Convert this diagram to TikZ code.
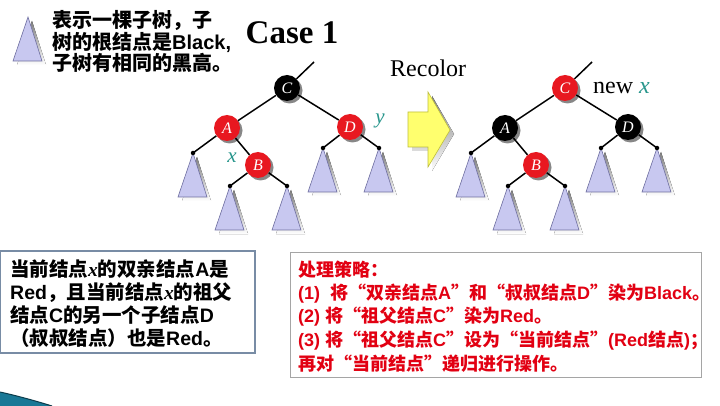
\documentclass[tikz,border=0pt]{standalone}
\usepackage{fontspec}
\setmainfont{Liberation Serif}
\newfontfamily\cjk{Noto Sans CJK SC}
\newfontfamily\ars{Liberation Sans}
\usetikzlibrary{shadows}
\definecolor{nodered}{RGB}{232,24,32}
\definecolor{tri}{RGB}{200,200,240}
\definecolor{triedge}{RGB}{110,110,160}
\definecolor{shade}{RGB}{135,135,135}
\definecolor{tealx}{RGB}{40,150,140}
\definecolor{txtred}{RGB}{226,0,18}
\definecolor{boxblue}{RGB}{120,140,165}
\definecolor{boxgray}{RGB}{165,165,165}
\definecolor{arrowyel}{RGB}{255,255,110}
\definecolor{arrowedge}{RGB}{190,190,60}
\definecolor{swoosh}{RGB}{25,120,150}
\newcommand\en[1]{{\ars\bfseries #1}}
\newcommand\vx{{\rmfamily\bfseries\itshape x}}
\begin{document}
\begin{tikzpicture}[x=1pt,y=-1pt,
  rb/.style={circle,minimum size=26pt,inner sep=0pt,text=white,
    font=\fontsize{16}{16}\selectfont\itshape,
    drop shadow={shadow xshift=2.5pt,shadow yshift=-2.5pt,fill=shade,opacity=1}},
  rednode/.style={rb,fill=nodered},
  blacknode/.style={rb,fill=black},
  dotnode/.style={circle,fill=black,inner sep=0pt,minimum size=4.5pt},
  edge/.style={line width=1.5pt},
  lbl/.style={text=tealx,font=\fontsize{21}{21}\selectfont\itshape,inner sep=0pt},
  subtree/.pic={
    \fill[shade] (4,4) -- (-11,48) -- (18,48) -- cycle;
    \filldraw[fill=tri,draw=triedge,line width=0.6pt] (0,0) -- (-15,44) -- (14,44) -- cycle;
  },
  ln/.style={anchor=base west,inner sep=0pt,font=\cjk\bfseries\fontsize{20}{24}\selectfont},
  cn/.style={anchor=base west,inner sep=0pt,font=\cjk\bfseries\fontsize{19.5}{23}\selectfont},
  rn/.style={anchor=base west,inner sep=0pt,text=txtred,font=\cjk\bfseries\fontsize{18}{21}\selectfont}
]
\useasboundingbox (0,0) rectangle (720,406);
\fill[white] (0,0) rectangle (720,406);

% bottom-left swoosh
\fill[swoosh] (0,392) .. controls (18,396) and (36,401) .. (52,406) -- (0,406) -- cycle;
\draw[swoosh!50!black,line width=1pt] (0,392) .. controls (18,396) and (36,401) .. (52,406);

% legend
\pic at (28,17) {subtree};
\node[ln] (l1) at (52,28) {表示一棵子树，子};
\node[ln] (l2) at (52,49.5) {树的根结点是\en{Black,}};
\node[ln] (l3) at (52,71) {子树有相同的黑高。};

% title
\node[font=\fontsize{33}{33}\selectfont\bfseries] (case) at (292,33) {Case 1};

% ---------- left tree ----------
\coordinate (Ltop) at (314,62);
\coordinate (La1) at (193,153);
\coordinate (Lb1) at (230,186);
\coordinate (Lb2) at (287,186);
\coordinate (Ld1) at (323,148);
\coordinate (Ld2) at (379,148);
\foreach \p in {La1,Lb1,Lb2,Ld1,Ld2} \pic at (\p) {subtree};
\node[blacknode] (LC) at (287,88) {C};
\node[rednode] (LA) at (227,128) {A};
\node[rednode] (LD) at (350,127) {D};
\node[rednode] (LB) at (258,165) {B};
\draw[edge] (LC) -- (Ltop);
\draw[edge] (LC) -- (LA);
\draw[edge] (LC) -- (LD);
\draw[edge] (LA) -- (La1);
\draw[edge] (LA) -- (LB);
\draw[edge] (LB) -- (Lb1);
\draw[edge] (LB) -- (Lb2);
\draw[edge] (LD) -- (Ld1);
\draw[edge] (LD) -- (Ld2);
\foreach \p in {La1,Lb1,Lb2,Ld1,Ld2} \node[dotnode] (\p dot) at (\p) {};
\node[lbl] (Lx) at (232,158) {x};
\node[lbl] (Ly) at (380,121) {y};

% recolor arrow
\node[anchor=base west,inner sep=0pt,font=\fontsize{24}{24}\selectfont] (rec) at (390,77) {Recolor};
\fill[shade] (412,116) -- (432,116) -- (432,96) -- (454,134) -- (432,171) -- (432,151) -- (412,151) -- cycle;
\filldraw[fill=arrowyel,draw=arrowedge,line width=0.6pt]
  (408,112) -- (428,112) -- (428,92) -- (450,130) -- (428,167) -- (428,147) -- (408,147) -- cycle;

% ---------- right tree ----------
\coordinate (Rtop) at (592,62);
\coordinate (Ra1) at (471,153);
\coordinate (Rb1) at (508,186);
\coordinate (Rb2) at (565,186);
\coordinate (Rd1) at (601,148);
\coordinate (Rd2) at (657,148);
\foreach \p in {Ra1,Rb1,Rb2,Rd1,Rd2} \pic at (\p) {subtree};
\node[rednode] (RC) at (565,88) {C};
\node[blacknode] (RA) at (505,128) {A};
\node[blacknode] (RD) at (628,127) {D};
\node[rednode] (RB) at (536,165) {B};
\draw[edge] (RC) -- (Rtop);
\draw[edge] (RC) -- (RA);
\draw[edge] (RC) -- (RD);
\draw[edge] (RA) -- (Ra1);
\draw[edge] (RA) -- (RB);
\draw[edge] (RB) -- (Rb1);
\draw[edge] (RB) -- (Rb2);
\draw[edge] (RD) -- (Rd1);
\draw[edge] (RD) -- (Rd2);
\foreach \p in {Ra1,Rb1,Rb2,Rd1,Rd2} \node[dotnode] (\p dot) at (\p) {};
\node[anchor=base west,inner sep=0pt,font=\fontsize{24}{24}\selectfont] (newx) at (593,94) {new \textcolor{tealx}{\itshape x}};

% ---------- bottom-left box ----------
\draw[boxblue,line width=1.5pt] (0,251) rectangle (255,353);
\node[cn] (b1) at (10,276) {当前结点\vx 的双亲结点\en{A}是};
\node[cn] (b2) at (10,299) {\en{Red}，且当前结点\vx 的祖父};
\node[cn] (b3) at (10,322) {结点\en{C}的另一个子结点\en{D}};
\node[cn] (b4) at (10,345) {（叔叔结点）也是\en{Red}。};

% ---------- bottom-right box ----------
\draw[boxgray,line width=1pt] (290,252) rectangle (701,377);
\node[rn] (r1) at (298,276) {处理策略：};
\node[rn] (r2) at (298,299) {\en{(1)\ \ }将“双亲结点\en{A}”和“叔叔结点\en{D}”染为\en{Black}。};
\node[rn] (r3) at (298,322.5) {\en{(2) }将“祖父结点\en{C}”染为\en{Red}。};
\node[rn] (r4) at (298,346) {\en{(3) }将“祖父结点\en{C}”设为“当前结点”\en{(Red}结点\en{)}；};
\node[rn] (r5) at (298,370) {再对“当前结点”递归进行操作。};
\end{tikzpicture}
\end{document}
